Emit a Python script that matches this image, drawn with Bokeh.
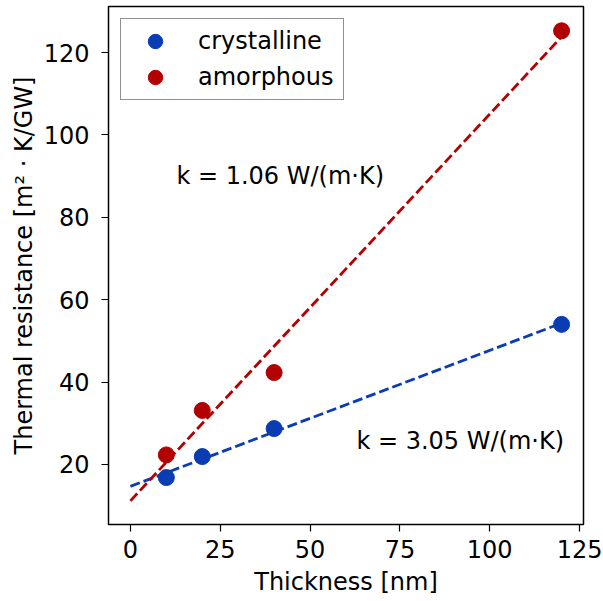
import numpy as np
from bokeh.plotting import figure
from bokeh.models import Range1d, Label, Legend, LegendItem, FixedTicker
from bokeh.embed import file_html
from bokeh.resources import INLINE

thickness = [10, 20, 40, 120]
crystalline = [16.8, 21.9, 28.7, 54.0]
amorphous = [22.3, 33.1, 42.3, 125.3]
k_labels = ["k = 3.05 W/(m·K)", "k = 1.06 W/(m·K)"]
x_ticks = [0, 25, 50, 75, 100, 125]
y_ticks = [20, 40, 60, 80, 100, 120]

BLUE = "#0a3cb4"
RED = "#b30000"
FONT = "DejaVu Sans"
FS = "24px"

p = figure(width=603, height=601, output_backend="svg", toolbar_location=None,
           x_range=Range1d(-6.1, 126.1), y_range=Range1d(5.4, 131.2),
           min_border_left=108, min_border_right=20, min_border_top=6, min_border_bottom=77)
p.grid.visible = False
p.outline_line_color = "black"
p.outline_line_width = 1.5

xf = np.array([0, 120])
for ys, col in [(crystalline, BLUE), (amorphous, RED)]:
    m, b = np.polyfit(thickness, ys, 1)
    p.line(xf, m * xf + b, line_color=col, line_width=2.8, line_dash="10 4")

rc = p.scatter(thickness, crystalline, size=16, fill_color=BLUE, line_color=BLUE)
ra = p.scatter(thickness, amorphous, size=16, fill_color=RED, line_color=RED)

legend = Legend(items=[LegendItem(label="crystalline", renderers=[rc]),
                       LegendItem(label="amorphous", renderers=[ra])],
                location="top_left")
legend.label_text_font = FONT
legend.label_text_font_size = FS
legend.label_text_color = "black"
legend.border_line_color = "#222222"
legend.border_line_width = 1.8
legend.margin = 12
legend.padding = 4
legend.spacing = 0
legend.glyph_width = 60
legend.glyph_height = 36
legend.label_height = 36
legend.label_standoff = 13
legend.label_width = 141
legend.background_fill_alpha = 1
p.add_layout(legend)

p.add_layout(Label(x=62.9, y=25.6, text=k_labels[0], text_font=FONT, text_font_size=FS,
                   text_baseline="middle", text_align="left", text_color="black"))
p.add_layout(Label(x=12.8, y=90.1, text=k_labels[1], text_font=FONT, text_font_size=FS,
                   text_baseline="middle", text_align="left", text_color="black"))

for ax in (p.xaxis, p.yaxis):
    ax.major_label_text_font = FONT
    ax.major_label_text_font_size = FS
    ax.major_label_text_color = "black"
    ax.axis_label_text_font = FONT
    ax.axis_label_text_font_size = FS
    ax.axis_label_text_font_style = "normal"
    ax.axis_label_text_color = "black"
    ax.minor_tick_line_color = None
    ax.major_tick_out = 7
    ax.major_tick_in = 0
    ax.major_tick_line_width = 1.2
    ax.axis_line_color = None
p.xaxis.ticker = FixedTicker(ticks=x_ticks)
p.yaxis.ticker = FixedTicker(ticks=y_ticks)
p.xaxis.major_label_standoff = 8
p.xaxis.axis_label_standoff = 7
p.yaxis.major_label_standoff = 12
p.yaxis.axis_label_standoff = 3
p.xaxis.axis_label = "Thickness [nm]"
p.yaxis.axis_label = "Thermal resistance [m² · K/GW]"

open("out.html", "w").write(file_html(p, INLINE))
